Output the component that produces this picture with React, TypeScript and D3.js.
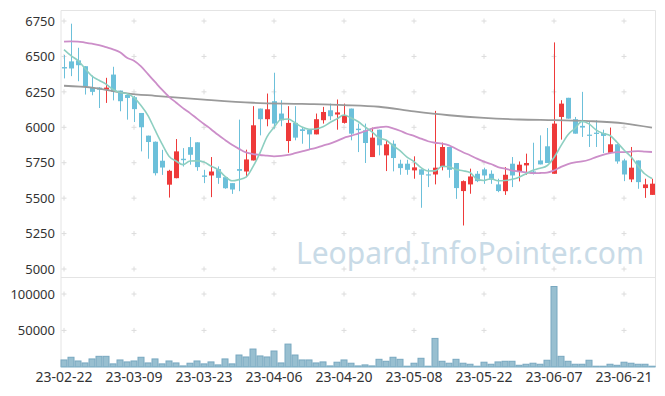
import React from "react";
import * as d3 from "d3";

const dates = [
  "23-02-22","23-02-23","23-02-24","23-02-27","23-02-28","23-03-02","23-03-03","23-03-06","23-03-07","23-03-08",
  "23-03-09","23-03-10","23-03-13","23-03-14","23-03-15","23-03-16","23-03-17","23-03-20","23-03-21","23-03-22",
  "23-03-23","23-03-24","23-03-27","23-03-28","23-03-29","23-03-30","23-03-31","23-04-03","23-04-04","23-04-05",
  "23-04-06","23-04-07","23-04-10","23-04-11","23-04-12","23-04-13","23-04-14","23-04-17","23-04-18","23-04-19",
  "23-04-20","23-04-21","23-04-24","23-04-25","23-04-26","23-04-27","23-04-28","23-05-02","23-05-03","23-05-04",
  "23-05-08","23-05-09","23-05-10","23-05-11","23-05-12","23-05-15","23-05-16","23-05-17","23-05-18","23-05-19",
  "23-05-22","23-05-23","23-05-24","23-05-25","23-05-26","23-05-30","23-05-31","23-06-01","23-06-02","23-06-05",
  "23-06-07","23-06-08","23-06-09","23-06-12","23-06-13","23-06-14","23-06-15","23-06-16","23-06-19","23-06-20",
  "23-06-21","23-06-22","23-06-23","23-06-26","23-06-27"
];

const opens = [
  6425,6465,6472,6431,6278,6280,6265,6372,6259,6228,
  6212,6101,5941,5898,5764,5595,5641,5778,5860,5894,
  5660,5660,5705,5648,5606,5705,5688,5766,6132,6057,
  6184,6097,5903,6031,5986,5983,5950,6050,6120,6090,
  6031,6132,5990,5979,5790,5983,5802,5884,5743,5743,
  5696,5703,5668,5667,5719,5861,5748,5550,5597,5672,
  5703,5672,5597,5549,5743,5684,5731,5688,5766,5866,
  5672,6073,6208,6057,6010,5948,5962,5960,5820,5880,
  5766,5632,5766,5571,5523
];
const highs = [
  6510,6731,6561,6431,6365,6283,6349,6427,6259,6231,
  6221,6101,5941,5900,5841,5700,5917,5853,5931,5894,
  5700,5790,5724,5653,5606,6054,5842,6149,6132,6238,
  6385,6191,6149,6149,6002,5983,6097,6144,6167,6196,
  6167,6132,6026,6026,5998,5983,5908,5908,5771,5771,
  5795,5703,5708,6116,5892,5861,5748,5625,5708,5691,
  5715,5696,5637,5719,5790,5759,5814,5891,5943,5995,
  6599,6191,6208,6073,6250,6038,6050,5983,5998,5884,
  5778,5861,5766,5637,5637
];
const lows = [
  6345,6361,6325,6231,6226,6136,6172,6190,6113,6054,
  6037,5830,5778,5660,5664,5504,5640,5723,5736,5693,
  5606,5507,5601,5566,5530,5549,5648,5766,5943,6007,
  5990,6007,5820,5908,5884,5842,5950,6026,6050,5983,
  6026,5908,5825,5748,5790,5802,5691,5689,5665,5665,
  5637,5432,5578,5597,5696,5644,5495,5307,5531,5613,
  5601,5601,5542,5523,5578,5618,5665,5667,5738,5748,
  5672,5913,6061,5955,5932,5861,5861,5818,5818,5743,
  5620,5613,5566,5502,5523
];
const closes = [
  6415,6415,6438,6290,6250,6265,6280,6250,6184,6207,
  6128,6000,5896,5676,5716,5693,5830,5768,5806,5719,
  5650,5688,5643,5570,5561,5693,5773,6014,6057,6127,
  6026,6049,6031,5927,5974,5950,6057,6108,6078,6105,
  6085,5955,5980,5889,5927,5873,5880,5783,5712,5700,
  5717,5665,5665,5715,5861,5700,5571,5620,5653,5620,
  5660,5630,5550,5665,5660,5736,5748,5672,5738,5748,
  6026,6167,6061,5955,5998,5940,5953,5939,5880,5759,
  5667,5715,5613,5597,5602
];
const volumes = [
  9400,13100,8000,5300,10800,14400,14400,4000,9400,6700,
  8000,13100,5300,10800,4000,8000,5300,1200,4900,8000,
  4000,6700,2600,10800,4000,16200,13500,24400,14900,13500,
  21700,5300,31200,16200,9400,9400,5300,6700,1200,6300,
  9400,4900,1200,2600,1200,10300,7600,13100,10300,800,
  4900,11700,800,39000,7600,4900,10300,4900,3500,800,
  6300,3500,6700,7600,7600,2100,3500,4900,3500,9000,
  110300,14400,7600,3500,3500,9000,800,800,3500,2100,
  6300,4900,3500,3500,800
];

const ma5Lead = [6548, 6505, 6470, 6415];
const ma20Lead = [6604, 6606, 6605, 6598, 6590, 6580, 6565, 6550, 6530, 6490, 6470, 6430, 6375, 6320, 6265, 6215, 6175, 6135, 6100];
// long moving average (gray)
const maLongIdx = [0, 4, 9, 13, 20, 27, 34, 40, 45, 50, 55, 60, 65, 70, 75, 80, 84];
const maLongVals = [6293, 6280, 6240, 6222, 6195, 6173, 6165, 6157, 6145, 6112, 6085, 6066, 6055, 6050, 6044, 6028, 5997];

const priceTicks = [5000, 5250, 5500, 5750, 6000, 6250, 6500, 6750];
const volTicks = [50000, 100000];
const labelIdx = [0, 10, 20, 30, 40, 50, 60, 70, 80];

function movingAvg(vals: number[], n: number, lead: number[]) {
  return vals.map((_, i) => (i < n - 1 ? lead[i] : d3.mean(vals.slice(i - n + 1, i + 1)) as number));
}

const UP = "#ee3a3a";
const DOWN = "#6cc0da";

export default function App() {
  const left = 61, right = 655.5, top = 10.5, sep = 277.5;
  const x = d3.scaleBand<number>().domain(d3.range(dates.length)).range([60.5, 655.5]).padding(0);
  const cx = (i: number) => (x(i) as number) + x.bandwidth() / 2;
  const y = d3.scaleLinear().domain([5000, 6750]).range([269, 21]);
  const yv = d3.scaleLinear().domain([0, 100000]).range([366.8, 294]);

  const ma5 = movingAvg(closes, 5, ma5Lead);
  const ma20 = movingAvg(closes, 20, ma20Lead);

  const line = d3.line<[number, number]>().x(d => d[0]).y(d => d[1]).curve(d3.curveMonotoneX);
  const ma5Path = line(ma5.map((v, i) => [cx(i), y(v)]));
  const ma20Path = line(ma20.map((v, i) => [cx(i), y(v)]));
  const maLongPath = line(maLongIdx.map((idx, k) => [cx(idx), y(maLongVals[k])]));

  const crossX = labelIdx.map(cx);
  const cross = (px: number, py: number) => `M${px - 2.5},${py}H${px + 2.5}M${px},${py - 2.5}V${py + 2.5}`;
  const crossPath =
    priceTicks.flatMap(t => crossX.map(px => cross(px, y(t)))).join("") +
    volTicks.flatMap(t => crossX.map(px => cross(px, yv(t)))).join("");

  const font = "'Noto Sans', sans-serif";
  const bw = 5;

  return (
    <svg width={665} height={396} style={{ position: "absolute", left: 0, top: 0, background: "#fff" }}>
      <rect x={0} y={0} width={665} height={396} fill="#fff" />
      {/* frame */}
      <g stroke="#e4e4e4" strokeWidth={1} fill="none">
        <line x1={left} x2={right} y1={top} y2={top} />
        <line x1={right} x2={right} y1={top} y2={yv(0)} />
        <line x1={left} x2={right} y1={sep} y2={sep} />
        <line x1={left} x2={left} y1={top} y2={yv(0)} />
      </g>
      <path d={crossPath} stroke="#dcdcdc" strokeWidth={1} fill="none" />

      {/* watermark */}
      <text x={644} y={264} textAnchor="end" fontFamily={font} fontSize={30} fill="#c9dbe7">
        Leopard.InfoPointer.com
      </text>

      {/* candles */}
      <g>
        {dates.map((_, i) => {
          const up = closes[i] > opens[i];
          const c = up ? UP : DOWN;
          const px = Math.round(cx(i)) + 0.5;
          const yt = y(Math.max(opens[i], closes[i]));
          const yb = y(Math.min(opens[i], closes[i]));
          return (
            <g key={i}>
              <line x1={px} x2={px} y1={y(highs[i])} y2={y(lows[i])} stroke={c} strokeWidth={1} />
              <rect x={px - bw / 2} y={yt} width={bw} height={Math.max(1.2, yb - yt)} fill={c} />
            </g>
          );
        })}
      </g>

      {/* moving averages */}
      <path d={maLongPath ?? ""} fill="none" stroke="#9a9a9a" strokeWidth={1.8} />
      <path d={ma20Path ?? ""} fill="none" stroke="#cc8ec9" strokeWidth={1.8} />
      <path d={ma5Path ?? ""} fill="none" stroke="#8dcfc1" strokeWidth={1.6} />

      {/* volume */}
      <g>
        {volumes.map((v, i) => (
          <rect key={i} x={(x(i) as number) + 0.5} y={yv(v)} width={x.bandwidth() - 1} height={yv(0) - yv(v)}
            fill="#98bfd0" stroke="#78a8c0" strokeWidth={1} />
        ))}
      </g>
      <line x1={left} x2={right} y1={yv(0)} y2={yv(0)} stroke="#84b2c8" strokeWidth={1} />

      {/* y labels */}
      <g fontFamily={font} fontSize={13} fill="#333" textAnchor="end">
        {priceTicks.map(t => (
          <text key={t} x={55} y={y(t)} dy="0.36em">{t}</text>
        ))}
        {volTicks.map(t => (
          <text key={t} x={55} y={yv(t)} dy="0.36em">{t}</text>
        ))}
      </g>
      {/* x labels */}
      <g fontFamily={font} fontSize={14} fill="#333" textAnchor="middle">
        {labelIdx.map(i => (
          <text key={i} x={cx(i)} y={382}>{dates[i]}</text>
        ))}
      </g>
    </svg>
  );
}
